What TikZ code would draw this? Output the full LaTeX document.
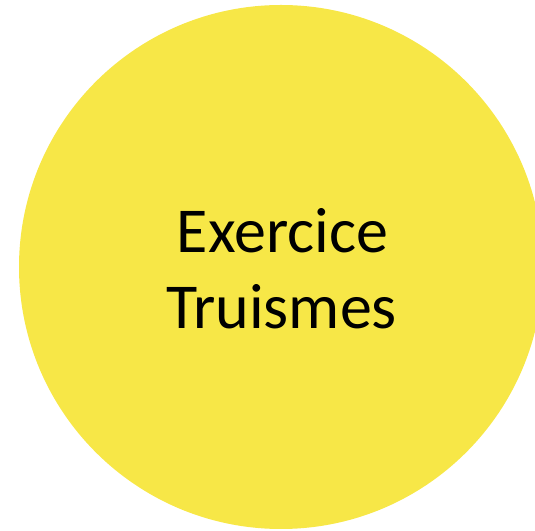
\documentclass[tikz,border=0pt]{standalone}
\usepackage{fontspec}
\setmainfont{Carlito}
\definecolor{circyellow}{RGB}{247,231,71}
\tikzset{label text/.style={font=\fontsize{64}{77}\selectfont, text=black, inner sep=0pt, anchor=base}}
\begin{document}
\begin{tikzpicture}[x=1pt,y=1pt]
\useasboundingbox (0,0) rectangle (535,530);
\clip (0,0) rectangle (535,530);
\fill[circyellow] (281,263) circle[radius=262];
\node[label text] (l1) at (282.5,277.4) {Exercice};
\node[label text] (l2) at (281.5,201) {Truismes};
\end{tikzpicture}
\end{document}
